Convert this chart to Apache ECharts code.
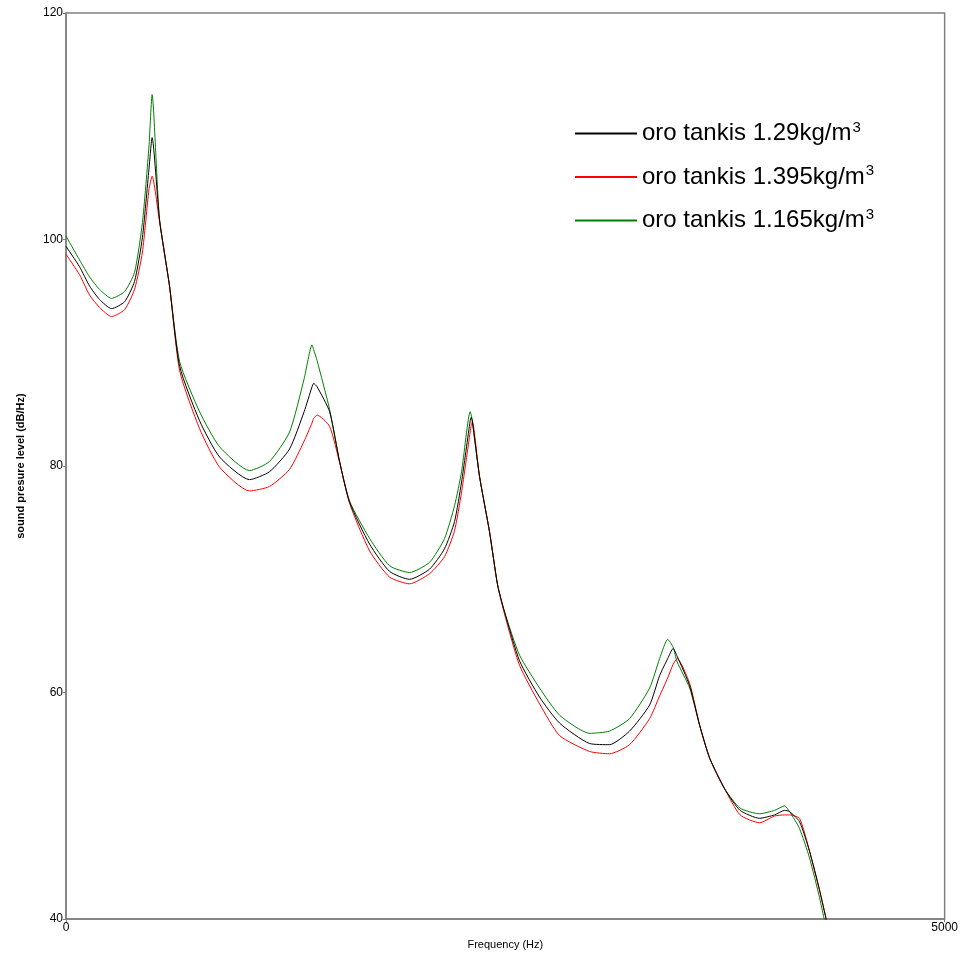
<!DOCTYPE html>
<html>
<head>
<meta charset="utf-8">
<script src="https://cdn.jsdelivr.net/npm/echarts@6/dist/echarts.min.js"></script>
<style>
html,body{margin:0;padding:0;background:#fff;}
#chart{width:961px;height:955px;}
</style>
</head>
<body>
<div id="chart"></div>
<script>
// Frequency (Hz) sample points
const freq = [0, 77, 134, 191, 259, 333, 390, 435, 472, 490, 532, 589, 647, 760, 874, 1044, 1158, 1272, 1355, 1400, 1409, 1429, 1500, 1557, 1614, 1728, 1841, 1955, 2069, 2154, 2211, 2251, 2300, 2306, 2312, 2353, 2410, 2456, 2496, 2581, 2695, 2809, 2980, 3093, 3207, 3321, 3378, 3424, 3455, 3478, 3549, 3606, 3663, 3748, 3836, 3947, 4032, 4089, 4117, 4174, 4231, 4288, 4328];
// Sound pressure level (dB/Hz)
const spl129 = [99.4, 97.6, 95.9, 94.7, 93.9, 94.5, 96.3, 100.2, 106.2, 109.0, 101.8, 95.9, 88.8, 84.0, 80.8, 78.8, 79.5, 81.5, 84.8, 87.0, 87.3, 87.0, 84.8, 80.4, 76.8, 73.1, 70.7, 70.0, 70.9, 72.7, 75.1, 78.6, 84.0, 84.3, 84.0, 79.1, 74.2, 69.5, 67.1, 62.8, 59.6, 57.3, 55.5, 55.4, 56.6, 58.9, 61.5, 63.0, 63.9, 63.2, 60.6, 57.1, 54.2, 51.5, 49.6, 48.9, 49.2, 49.6, 49.5, 48.6, 46.0, 42.6, 39.8];
const spl1395 = [98.7, 96.9, 95.1, 94.0, 93.2, 93.8, 95.6, 98.9, 104.4, 105.6, 101.6, 95.9, 88.4, 83.3, 79.9, 77.8, 78.2, 79.7, 82.2, 83.8, 84.2, 84.5, 83.5, 80.3, 76.7, 72.5, 70.2, 69.6, 70.5, 72.0, 74.3, 77.7, 83.0, 83.6, 83.9, 79.1, 74.2, 69.5, 66.9, 62.4, 59.0, 56.2, 54.8, 54.6, 55.4, 57.7, 59.7, 61.3, 62.5, 63.0, 60.8, 57.1, 54.2, 51.5, 49.2, 48.5, 49.1, 49.2, 49.2, 48.9, 46.0, 42.5, 39.9];
const spl1165 = [100.3, 98.2, 96.7, 95.6, 94.8, 95.4, 97.1, 101.5, 108.2, 112.8, 101.8, 95.9, 89.2, 84.8, 81.7, 79.6, 80.4, 83.0, 87.7, 90.7, 90.3, 89.3, 85.0, 80.4, 76.9, 73.6, 71.2, 70.6, 71.5, 73.6, 76.5, 79.5, 84.8, 84.5, 84.0, 79.1, 74.2, 69.5, 67.1, 63.3, 60.4, 58.0, 56.4, 56.6, 57.7, 60.4, 63.0, 64.7, 64.0, 62.7, 60.4, 57.1, 54.2, 51.5, 49.8, 49.3, 49.6, 50.0, 49.5, 48.0, 45.4, 41.9, 39.0];
const seriesNames = ['oro tankis 1.29kg/m', 'oro tankis 1.395kg/m', 'oro tankis 1.165kg/m'];
const yTicks = [40, 60, 80, 100, 120];
const xTicks = [0, 5000];

const pair = arr => freq.map((f, i) => [f, arr[i]]);
const colors = ['#000000', '#ff0000', '#008000'];
const values = [spl129, spl1395, spl1165];

const chart = echarts.init(document.getElementById('chart'), null, {renderer: 'canvas'});
chart.setOption({
  animation: false,
  backgroundColor: '#ffffff',
  textStyle: {fontFamily: 'Liberation Sans, Arial, sans-serif'},
  grid: {left: 66, right: 16, top: 13, bottom: 34, show: true, borderColor: '#808080', borderWidth: 1.5},
  legend: {
    orient: 'vertical',
    left: 570,
    top: 115,
    itemWidth: 62,
    itemHeight: 2,
    itemGap: 18,
    icon: 'rect',
    data: seriesNames,
    formatter: n => '{a|' + n + '}{s|3}',
    textStyle: {
      color: '#000',
      rich: {
        a: {fontSize: 24, fontFamily: 'Liberation Sans, Arial, sans-serif', color: '#000', lineHeight: 26},
        s: {fontSize: 15, fontFamily: 'Liberation Sans, Arial, sans-serif', color: '#000', verticalAlign: 'top', padding: [0, 0, 12, 1]}
      }
    }
  },
  xAxis: {
    type: 'value',
    min: xTicks[0],
    max: xTicks[xTicks.length - 1],
    interval: 5000,
    name: 'Frequency (Hz)',
    nameLocation: 'middle',
    nameGap: 15,
    nameTextStyle: {fontSize: 11, color: '#000'},
    axisLine: {show: true, lineStyle: {color: '#808080', width: 1.5}},
    axisTick: {show: true, length: 3, lineStyle: {color: '#808080'}},
    axisLabel: {fontSize: 12, color: '#000', margin: 3, formatter: v => xTicks.includes(v) ? String(v) : ''},
    splitLine: {show: false}
  },
  yAxis: {
    type: 'value',
    min: yTicks[0],
    max: yTicks[yTicks.length - 1],
    interval: 20,
    name: 'sound presure level (dB/Hz)',
    nameLocation: 'middle',
    nameGap: 40,
    nameTextStyle: {fontSize: 11, fontWeight: 'bold', color: '#000'},
    axisLine: {show: true, lineStyle: {color: '#808080', width: 1.5}},
    axisTick: {show: true, length: 3, lineStyle: {color: '#808080'}},
    axisLabel: {fontSize: 12, color: '#000', margin: 3},
    splitLine: {show: false}
  },
  series: seriesNames.map((n, i) => ({
    name: n,
    type: 'line',
    data: pair(values[i]),
    showSymbol: false,
    symbol: 'none',
    smooth: 0.2,
    clip: true,
    z: 3 - i,
    lineStyle: {color: colors[i], width: 1},
    itemStyle: {color: colors[i]}
  }))
});
</script>
</body>
</html>
